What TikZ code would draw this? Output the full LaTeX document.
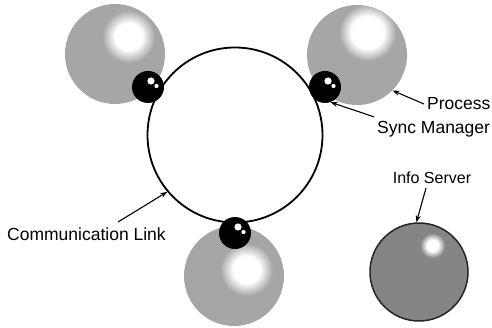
\documentclass[tikz,border=0pt]{standalone}
\usepackage{fontspec}
\setmainfont{Liberation Sans}
\usetikzlibrary{arrows.meta}

% soft highlight inside a sphere node: concentric discs from the body grey to white
% #1 sphere node, #2 sphere radius, #3 centre, #4 fully white radius, #5 outer radius, #6 body grey
\newcommand\glowspot[6]{%
  \begin{scope}
    \clip (#1.center) circle (#2pt);
    \foreach \i in {0,...,14}{%
      \pgfmathsetmacro\rr{#5-(#5-#4)*\i/14}%
      \pgfmathsetmacro\pp{#6*(1-\i/14)}%
      \fill[black!\pp] #3 circle (\rr pt);
    }
  \end{scope}}

\begin{document}
\begin{tikzpicture}[x=1pt,y=-1pt,
  process/.style={circle, inner sep=0pt, minimum size=100pt, fill=black!35},
  server/.style={circle, inner sep=0pt, minimum size=98pt, fill=black!48, draw=black!85, line width=1.5pt},
  syncball/.style={circle, inner sep=0pt, minimum size=32pt, fill=black},
  ringstyle/.style={circle, inner sep=0pt, minimum size=175pt, draw=black, line width=1.8pt},
  lbl/.style={inner sep=0pt, font=\fontsize{17.5}{20}\selectfont},
  arr/.style={-{Stealth[length=7pt,width=5pt]}, line width=1.1pt}]
\useasboundingbox (0,0) rectangle (492,328);

% processes
\node[process] (p1) at (115,54) {};
\node[process] (p2) at (357,55) {};
\node[process] (p3) at (234,276) {};
\glowspot{p1}{49.5}{(129,37)}{14}{27}{35}
\glowspot{p2}{49.5}{(368,33)}{17}{29}{35}
\glowspot{p3}{49.5}{(247,270)}{14}{27}{35}

% info server
\node[server] (info) at (419,272) {};
\glowspot{info}{48}{(433,246)}{6}{13}{48}

% communication link
\node[ringstyle] (ring) at (235,135) {};

% sync managers
\foreach \n/\x/\y in {s1/148/87, s2/325/87, s3/235/233}{
  \node[syncball] (\n) at (\x,\y) {};
  \fill[white] (\x+3,\y-6) circle (3.6pt);
  \fill[white] (\x+8.5,\y-1) circle (2.1pt);
}

% labels
\node[lbl, anchor=west] (lproc) at (427,104) {Process};
\node[lbl, anchor=west] (lsync) at (377,129) {Sync Manager};
\node[lbl, anchor=west] (lcomm) at (7,234) {Communication Link};
\node[lbl, font=\fontsize{16}{18}\selectfont] (linfo) at (432,178) {Info Server};
\coordinate (ctail) at (118,222);

\draw[arr] ([xshift=-3pt]lproc.west) -- (p2.-45);
\draw[arr] ([xshift=-3pt,yshift=4pt]lsync.north west) -- (s2.-70);
\draw[arr] (ctail) -- (ring.-140);
\draw[arr] ([xshift=-6pt,yshift=-4pt]linfo.south) -- (info.93);
\end{tikzpicture}
\end{document}
